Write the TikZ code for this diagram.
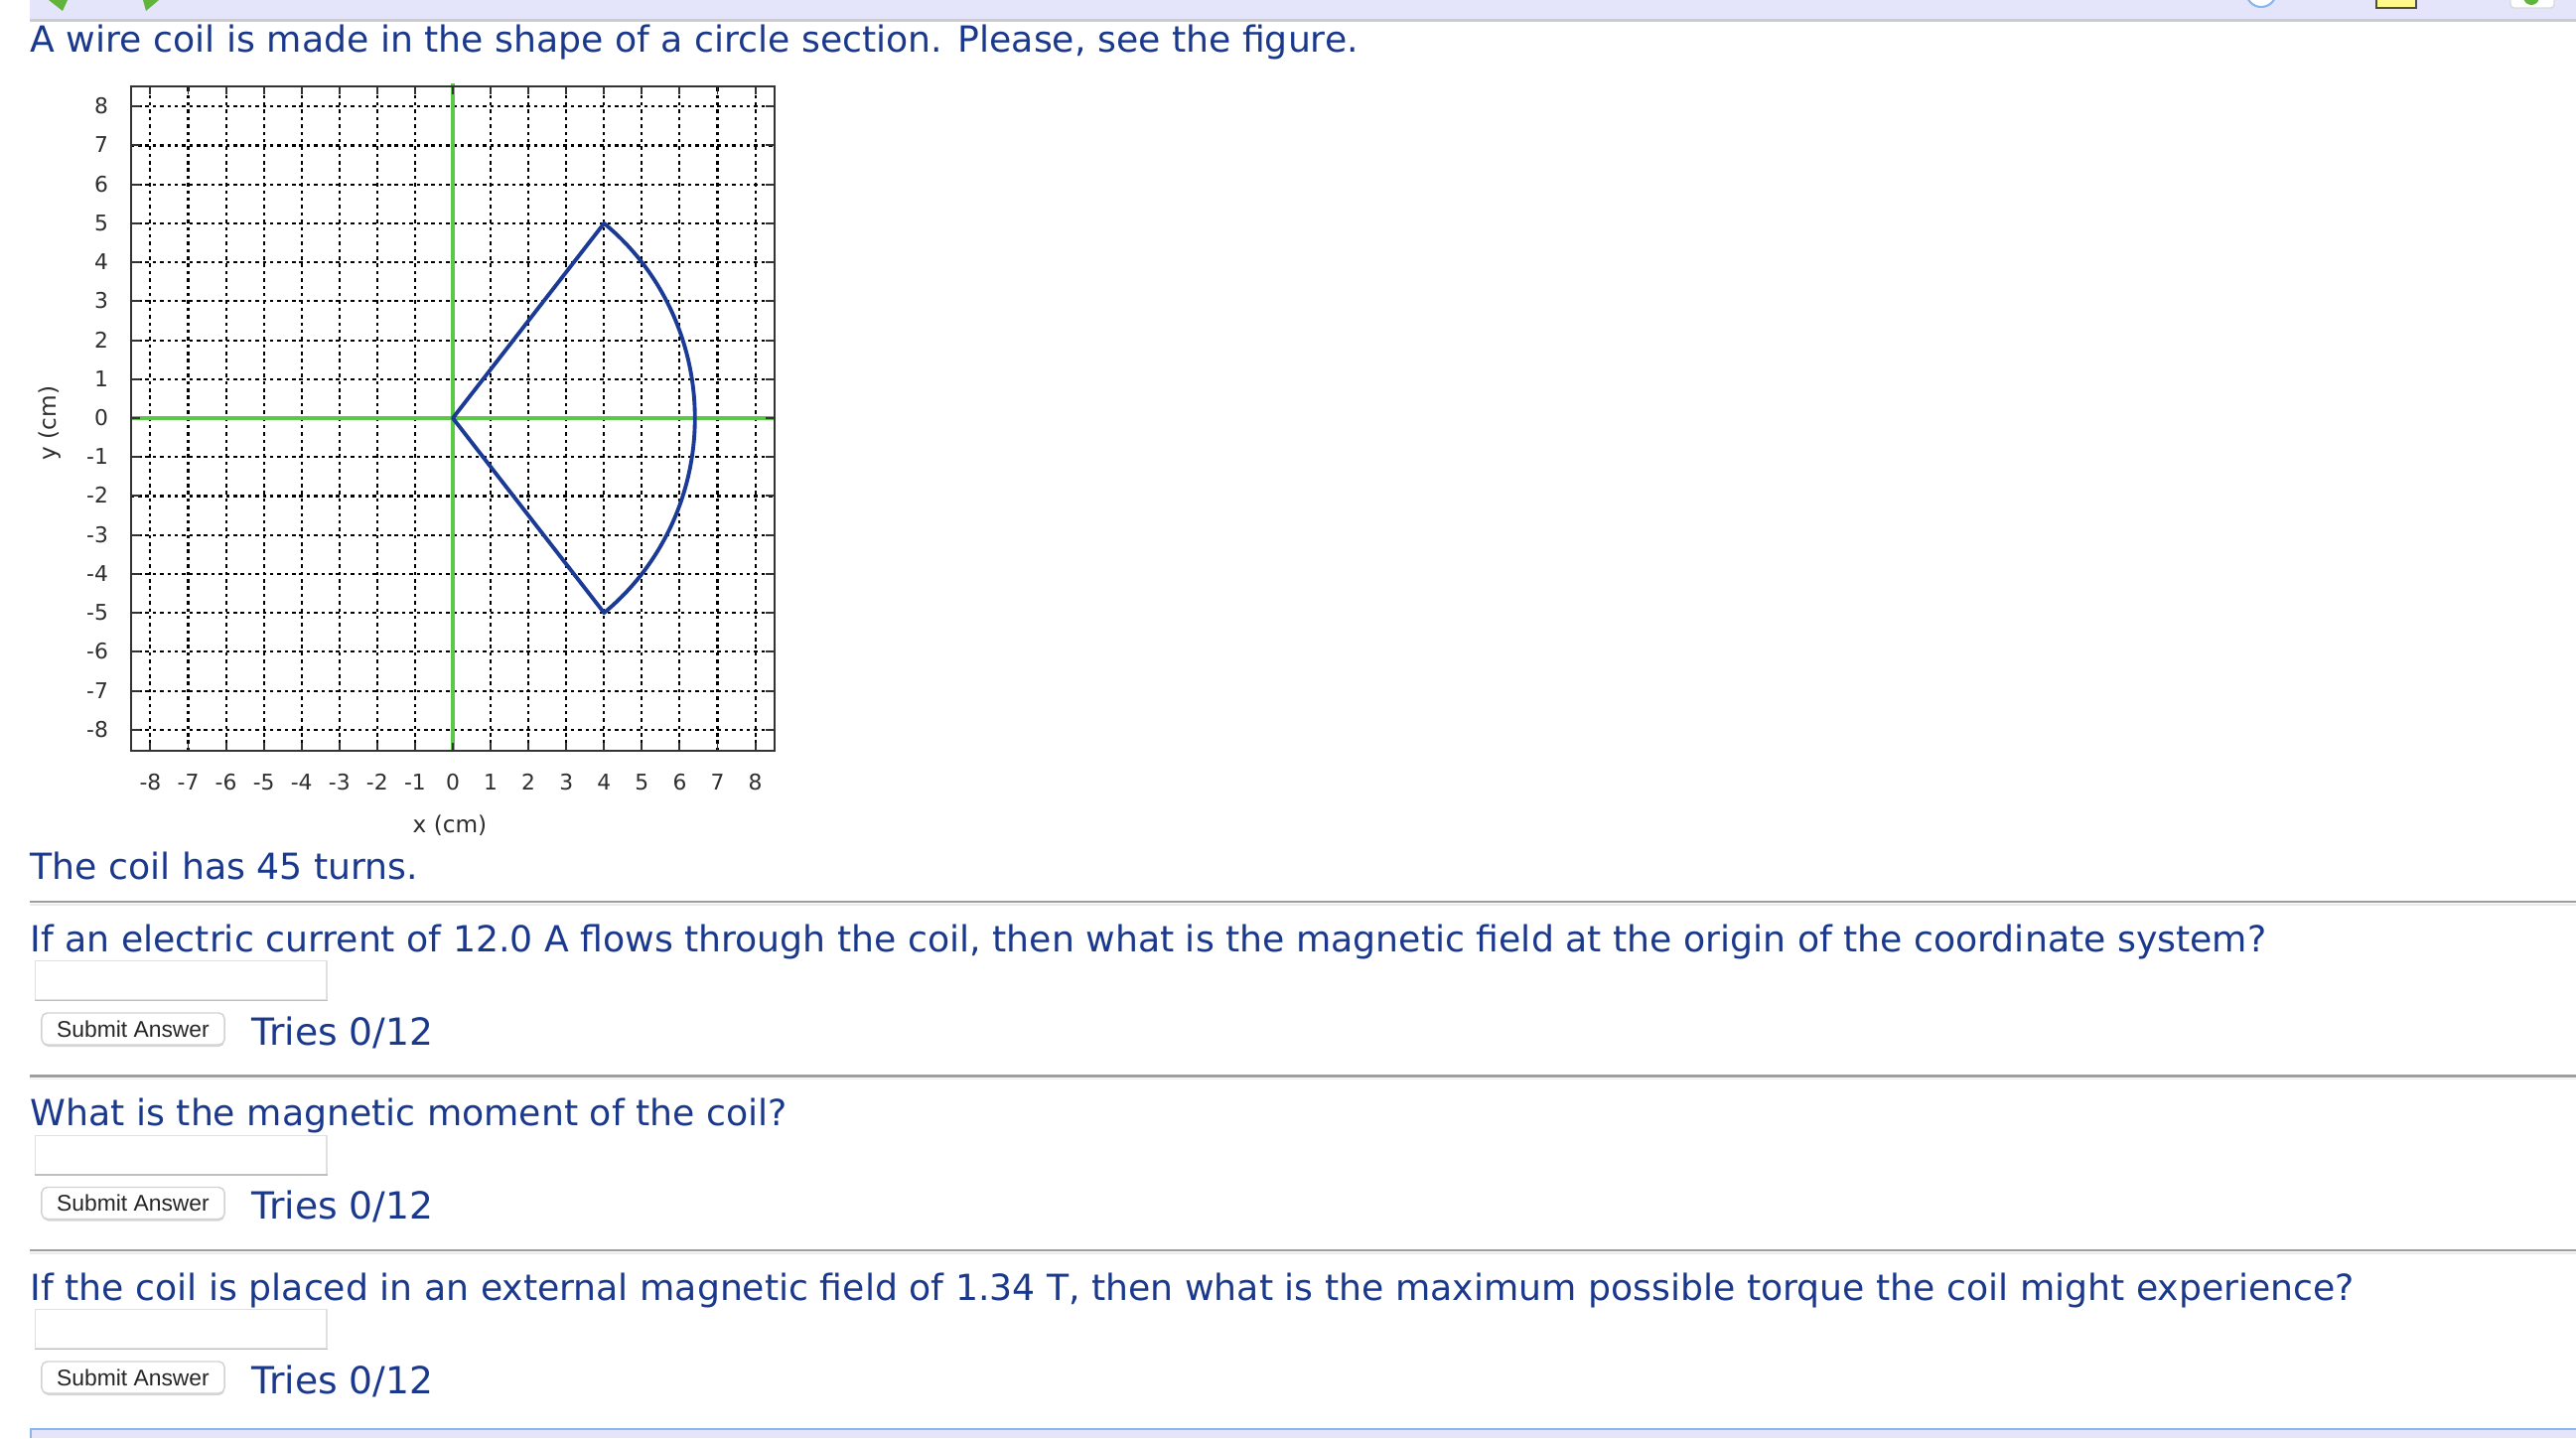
\documentclass[tikz,border=0pt]{standalone}
\usepackage{fontspec}
\newfontfamily\pagefont{DejaVu Sans}
\newfontfamily\btnfont{Liberation Sans}
\definecolor{qblue}{RGB}{27,57,140}
\definecolor{coilblue}{RGB}{26,58,150}
\definecolor{axisgreen}{RGB}{92,200,72}
\definecolor{barlav}{RGB}{228,228,250}
\definecolor{barblue}{RGB}{138,182,240}
\definecolor{icongreen}{RGB}{96,180,60}

\begin{document}
\begin{tikzpicture}
[x=0.01cm,y=-0.01cm,%
  every node/.style={inner sep=0pt},%
  pagetext/.style={anchor=base west,text=qblue,font=\pagefont\fontsize{10.3}{12}\selectfont},%
  plotlabel/.style={text=black!82,font=\pagefont\fontsize{6.2}{7}\selectfont},%
  plotframe/.style={draw=black!80,line width=0.55pt},%
  gridline/.style={draw=black,line width=0.6pt,dash pattern=on 1pt off 1.1pt},%
  axisline/.style={draw=axisgreen,line width=1.1pt},%
  coil/.style={draw=coilblue,line width=1.1pt,line join=round},%
  rule/.style={draw=black!38,line width=0.7pt},%
  answerbox/.style={draw=black!12,fill=white,line width=0.4pt,minimum width=2.93cm,minimum height=0.39cm},%
  submit/.style={draw=black!18,fill=white,rounded corners=1.6pt,line width=0.4pt,minimum width=1.84cm,minimum height=0.32cm,text=black!85,font=\btnfont\fontsize{6.5}{8}\selectfont}]
\useasboundingbox (0,0) rectangle (2594,1448);
\clip (0,0) rectangle (2594,1448);

% top bar
\fill[barlav] (30,0) rectangle (2594,19);
\fill[black!20] (30,19) rectangle (2594,21.5);
\fill[icongreen] (49,0) -- (68,0) -- (63,11) -- cycle;
\fill[icongreen] (144,0) -- (160,0) -- (147,11) -- cycle;
\draw[barblue,fill=white,line width=0.6pt] (2277,-8) circle (15);
\filldraw[fill=yellow!45,draw=black!70,line width=0.6pt] (2393,-6) rectangle (2433,8);
\filldraw[fill=white,draw=black!15,rounded corners=1pt] (2528,-10) rectangle (2572,8);
\fill[icongreen] (2549,-3) circle (8);

\node[pagetext] (title) at (30,52) {A wire coil is made in the shape of a circle section. Please, see the figure.};

% the plot
\begin{scope}[shift={(456,421)},x=0.3805cm,y=0.392cm]
  \draw[gridline,step=1] (-8.52,-8.55) grid (8.52,8.52);
  \draw[axisline] (0,-8.55) -- (0,8.58);
  \draw[axisline] (-8.52,0) -- (8.52,0);
  \draw[coil] (0,0) -- (4,5) arc[start angle=51.34,end angle=-51.34,radius=6.403] -- cycle;
  \draw[plotframe] (-8.52,-8.55) rectangle (8.52,8.52);
  \foreach \i in {-8,...,8} {
    \draw[plotframe] (\i,-8.55) -- ++(0,0.22) (\i,8.52) -- ++(0,-0.22)
      (-8.52,\i) -- ++(0.24,0) (8.52,\i) -- ++(-0.24,0);
    \node[plotlabel,anchor=base,yshift=-0.39cm] (xt\i) at (\i,-8.55) {\i};
    \node[plotlabel,anchor=base east,xshift=-0.22cm,yshift=-0.075cm] (yt\i) at (-8.52,\i) {\i};
  }
\end{scope}
\node[plotlabel,font=\pagefont\fontsize{6.6}{8}\selectfont,rotate=90] (ylabel) at (50,426) {y (cm)};
\node[plotlabel,font=\pagefont\fontsize{6.6}{8}\selectfont] (xlabel) at (453,831) {x (cm)};

\node[pagetext] (turns) at (30,885) {The coil has 45 turns.};

% questions
\foreach \k/\qtext in {0/{If an electric current of 12.0 A flows through the coil, then what is the magnetic field at the origin of the coordinate system?},%
  1/{What is the magnetic moment of the coil?},%
  2/{If the coil is placed in an external magnetic field of 1.34 T, then what is the maximum possible torque the coil might experience?}} {
  \draw[rule] (30,908+175.5*\k) -- (2594,908+175.5*\k);
  \draw[black!8,line width=0.4pt] (30,911+175.5*\k) -- (2594,911+175.5*\k);
  \node[pagetext] (q\k) at (30,958+175.5*\k) {\qtext};
  \node[answerbox,anchor=north west] (box\k) at (35,967+175.5*\k) {};
  \draw[black!25,line width=0.5pt] (box\k.south west) -- (box\k.south east);
  \fill[black!16,rounded corners=1.6pt] (43,1022+175.5*\k) rectangle (226,1054+175.5*\k);
  \node[submit] (submit\k) at (134,1036+175.5*\k) {Submit Answer};
  \node[pagetext,font=\pagefont\fontsize{10.7}{12}\selectfont] (tries\k) at (253,1052+175.5*\k) {Tries 0/12};
}

% bottom bar
\fill[barlav] (30,1439) rectangle (2594,1448);
\draw[barblue,line width=0.6pt] (31,1448) |- (2594,1439);
\end{tikzpicture}
\end{document}
